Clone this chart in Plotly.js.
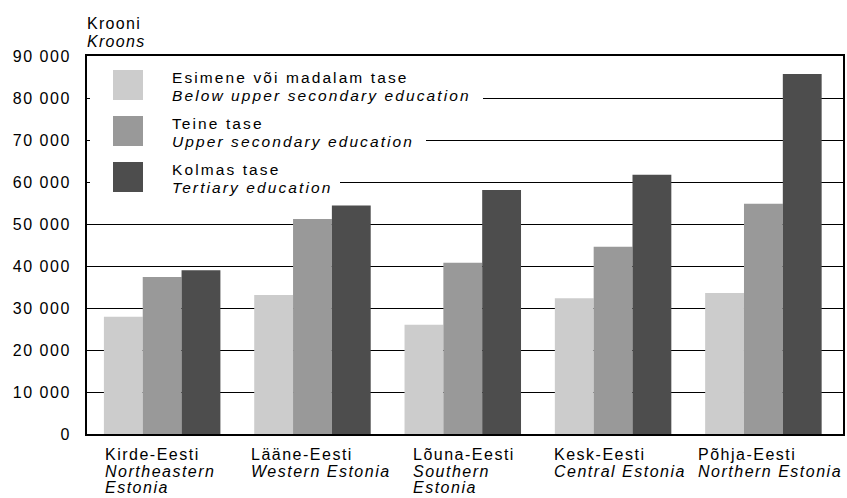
<!DOCTYPE html>
<html>
<head>
<meta charset="utf-8">
<script src="https://cdn.plot.ly/plotly-3.0.1.min.js"></script>
<style>
  html, body { margin: 0; padding: 0; background: #fff; }
  #chart { width: 847px; height: 498px; }
  .ytick text { letter-spacing: 1.5px; }
</style>
</head>
<body>
<div id="chart"></div>
<script>
// ---- Data ----
const categories = ['Kirde-Eesti', 'Lääne-Eesti', 'Lõuna-Eesti', 'Kesk-Eesti', 'Põhja-Eesti'];
const categoriesEn = [['Northeastern', 'Estonia'], ['Western Estonia'], ['Southern', 'Estonia'], ['Central Estonia'], ['Northern Estonia']];
const seriesEt = ['Esimene või madalam tase', 'Teine tase', 'Kolmas tase'];
const seriesEn = ['Below upper secondary education', 'Upper secondary education', 'Tertiary education'];
const belowUpperSecondary = [27900, 33100, 26000, 32300, 33600];
const upperSecondary = [37400, 51200, 40800, 44600, 54800];
const tertiary = [39000, 54400, 58100, 61700, 85700];
const yTitleEt = 'Krooni';
const yTitleEn = 'Kroons';

// ---- Styles / layout constants ----
const colors = ['#cccccc', '#999999', '#4d4d4d'];
const FONT = '"Liberation Sans", Arial, Helvetica, sans-serif';
const W = 847, H = 498;
const M = {l: 87, r: 4, t: 56, b: 64};
const PW = W - M.l - M.r, PH = H - M.t - M.b;
const px = x => (x - M.l) / PW;          // pixel -> paper x
const py = y => (H - M.b - y) / PH;      // pixel -> paper y
const labelShift = [-58.6, -62.8, -51, -60.2, -66.4];
const labelLineY = [20.5, 37, 53.5];
const legendTop = [70, 116, 162];
const legendBoxRight = [483, 426, 340];

const values = [belowUpperSecondary, upperSecondary, tertiary];
const traces = values.map((v, i) => ({
  type: 'bar',
  x: categories,
  y: v,
  name: seriesEt[i],
  marker: {color: colors[i], line: {width: 0}},
  hoverinfo: 'x+y'
}));

const sp = (t, ls) => '<span style="letter-spacing:' + ls + 'px">' + t + '</span>';

const annotations = [];
const shapes = [];

// y-axis title (two lines)
annotations.push({xref: 'paper', yref: 'paper', x: 0, y: 1, xanchor: 'left', yanchor: 'middle',
  xshift: -2, yshift: M.t - 23, showarrow: false, text: sp(yTitleEt, 1.3),
  font: {family: FONT, size: 16, color: '#000'}});
annotations.push({xref: 'paper', yref: 'paper', x: 0, y: 1, xanchor: 'left', yanchor: 'middle',
  xshift: -2, yshift: M.t - 41, showarrow: false, text: sp(yTitleEn, 1.3),
  font: {family: FONT, size: 16, color: '#000', style: 'italic'}});

// category labels (left aligned, multi-line)
categories.forEach((c, i) => {
  const lines = [[c, false]].concat(categoriesEn[i].map(t => [t, true]));
  lines.forEach((ln, j) => {
    annotations.push({xref: 'x', yref: 'paper', x: c, y: 0, xanchor: 'left', yanchor: 'middle',
      xshift: labelShift[i], yshift: -labelLineY[j], showarrow: false, borderpad: 0,
      text: sp(ln[0], 1.5),
      font: {family: FONT, size: 16, color: '#000', style: ln[1] ? 'italic' : 'normal'}});
  });
});

// custom legend
seriesEt.forEach((s, i) => {
  const top = legendTop[i];
  shapes.push({type: 'rect', xref: 'paper', yref: 'paper', layer: 'above',
    x0: px(90), x1: px(legendBoxRight[i]), y0: py(top - 4), y1: py(top + 34),
    fillcolor: '#ffffff', line: {width: 0}});
  shapes.push({type: 'rect', xref: 'paper', yref: 'paper', layer: 'above',
    x0: px(113), x1: px(143), y0: py(top), y1: py(top + 30),
    fillcolor: colors[i], line: {width: 0}});
  annotations.push({xref: 'paper', yref: 'paper', x: 0, y: 1, xanchor: 'left', yanchor: 'middle',
    xshift: 171 - M.l - 1, yshift: M.t - (top + 7), showarrow: false, text: sp(s, 2.1),
    font: {family: FONT, size: 15.5, color: '#000'}});
  annotations.push({xref: 'paper', yref: 'paper', x: 0, y: 1, xanchor: 'left', yanchor: 'middle',
    xshift: 171 - M.l - 1, yshift: M.t - (top + 25), showarrow: false, text: sp(seriesEn[i], 2.1),
    font: {family: FONT, size: 15.5, color: '#000', style: 'italic'}});
});

const layout = {
  width: W, height: H,
  margin: M,
  paper_bgcolor: '#fff', plot_bgcolor: '#fff',
  font: {family: FONT, size: 16, color: '#000'},
  separators: ', ',
  showlegend: false,
  barmode: 'group',
  bargap: 0.225,
  bargroupgap: 0,
  xaxis: {
    type: 'category',
    showticklabels: false,
    ticks: '',
    showgrid: false,
    showline: true, mirror: true, linecolor: '#000', linewidth: 2,
    fixedrange: true
  },
  yaxis: {
    range: [0, 90000],
    dtick: 10000,
    tick0: 0,
    tickformat: ',d',
    ticks: '',
    ticklabelstandoff: 11,
    tickfont: {family: FONT, size: 16, color: '#000'},
    showgrid: true, gridcolor: '#000', gridwidth: 1,
    zeroline: false,
    showline: true, mirror: true, linecolor: '#000', linewidth: 2,
    fixedrange: true
  },
  annotations: annotations,
  shapes: shapes
};

Plotly.newPlot('chart', traces, layout, {displayModeBar: false, staticPlot: true});
</script>
</body>
</html>
